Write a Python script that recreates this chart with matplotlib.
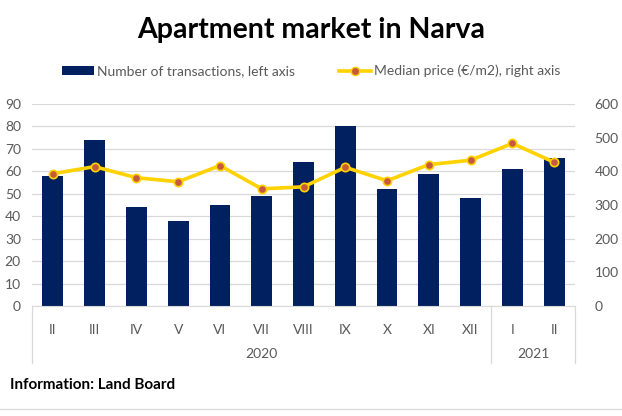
import matplotlib
matplotlib.use("Agg")
import matplotlib.pyplot as plt
from matplotlib.patches import Patch
from matplotlib.lines import Line2D
import numpy as np

# data
months = ["II", "III", "IV", "V", "VI", "VII", "VIII", "IX", "X", "XI", "XII", "I", "II"]
years = ["2020", "2021"]
year_spans = [(0, 10), (11, 12)]  # first and last month index of each year
transactions = [58, 74, 44, 38, 45, 49, 64, 80, 52, 59, 48, 61, 66]
median_price = [393, 414, 381, 369, 417, 348, 354, 412, 372, 420, 433, 483, 427]

plt.rcParams['font.family'] = ['Lato', 'DejaVu Sans']

bar_color = "#002060"
line_color = "#FFD200"
marker_color = "#C55A3C"
text_grey = "#595959"
grid_grey = "#D9D9D9"

fig = plt.figure(figsize=(6.22, 4.16), dpi=100)
W, H = 622, 416
ax = fig.add_axes([32 / W, 1 - 306 / H, (575 - 32) / W, (306 - 104) / H])
ax2 = ax.twinx()

x = np.arange(len(months))
ax.bar(x, transactions, width=0.5, color=bar_color, zorder=2)
ax2.plot(x, median_price, color=line_color, lw=2.6, marker="o", ms=6,
         mfc=marker_color, mec=line_color, mew=1.2, zorder=3)

ax.set_xlim(-0.5, len(months) - 0.5)
ax.set_ylim(0, 90)
ax2.set_ylim(0, 600)
ax.set_yticks(range(0, 91, 10))
ax2.set_yticks(range(0, 601, 100))
ax.yaxis.grid(True, color=grid_grey, lw=0.9, zorder=0)
ax.set_axisbelow(True)

for a in (ax, ax2):
    for s in a.spines.values():
        s.set_visible(False)
    a.tick_params(axis="y", length=0, labelsize=10, colors=text_grey)
ax.tick_params(axis="y", pad=8)
ax2.tick_params(axis="y", pad=14)
ax.spines["bottom"].set_visible(True)
ax.spines["bottom"].set_color(grid_grey)

ax.set_xticks(x)
ax.set_xticklabels(months)
ax.tick_params(axis="x", length=0, labelsize=10, colors=text_grey, pad=13)

# multi-level category axis
trans = ax.get_xaxis_transform()
drop = (363 - 306) / (306 - 104)
seps = [-0.5] + [s[1] + 0.5 for s in year_spans]
for sx in seps:
    ax.plot([sx, sx], [0, -drop], transform=trans, color=grid_grey, lw=0.9, clip_on=False)
for yr, (a, b) in zip(years, year_spans):
    ax.text((a + b) / 2, -(354 - 306) / (306 - 104), yr, transform=trans,
            ha="center", va="center", fontsize=10, color=text_grey)

fig.text(0.5, 1 - 30 / H, "Apartment market in Narva", ha="center", va="center",
         fontsize=20.5, fontweight="bold", color="black")

handles = [Patch(facecolor=bar_color, edgecolor="none"),
           Line2D([], [], color=line_color, lw=2.6, marker="o", ms=6,
                  mfc=marker_color, mec=line_color)]
fig.legend(handles, ["Number of transactions, left axis", "Median price (€/m2), right axis"],
           loc="center", bbox_to_anchor=(0.5, 1 - 71 / H), ncol=2, frameon=False,
           fontsize=10, labelcolor=text_grey, handlelength=2.3, handleheight=0.6,
           handletextpad=0.2, columnspacing=3.2)

fig.text(10 / W, 1 - 385 / H, "Information: Land Board", ha="left", va="center",
         fontsize=11, fontweight="bold", color="black")
fig.add_artist(Line2D([0, 1], [1 - 409 / H, 1 - 409 / H], color=grid_grey, lw=0.9))

fig.savefig("out.png", dpi=100)
